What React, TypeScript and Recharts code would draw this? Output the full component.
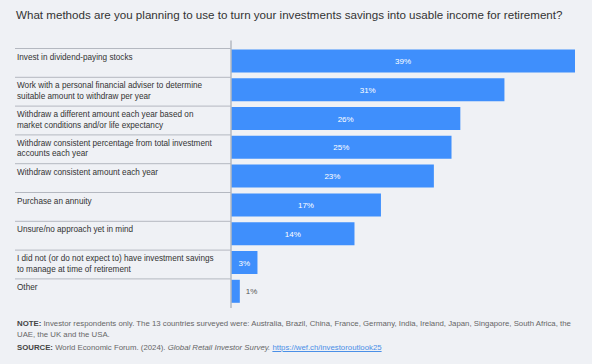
import React from 'react';
import { BarChart, Bar, XAxis, YAxis, LabelList } from 'recharts';

const categories = [
  'Invest in dividend-paying stocks',
  'Work with a personal financial adviser to determine\nsuitable amount to withdraw per year',
  'Withdraw a different amount each year based on\nmarket conditions and/or life expectancy',
  'Withdraw consistent percentage from total investment\naccounts each year',
  'Withdraw consistent amount each year',
  'Purchase an annuity',
  'Unsure/no approach yet in mind',
  'I did not (or do not expect to) have investment savings\nto manage at time of retirement',
  'Other',
];

const shares = [39, 31, 26, 25, 23, 17, 14, 3, 1];

const data = categories.map((name, i) => ({ name, value: shares[i] }));

const FONT = '"Liberation Sans", Arial, Helvetica, sans-serif';
const BAR_COLOR = '#3F8FFC';
const BG = '#EFF1F5';

const CategoryTick = (props: any) => {
  const { y, payload } = props;
  const lines: string[] = String(payload.value).split('\n');
  const top = y - 12.3;
  return (
    <g>
      <line x1={15} x2={231} y1={top} y2={top} stroke="#B4B8C0" strokeWidth={1} />
      <text x={17} y={top + 11} fontSize={8.2} fill="#333" fontFamily={FONT}>
        {lines.map((l, i) => (
          <tspan key={i} x={17} dy={i === 0 ? 0 : 10.5}>
            {l}
          </tspan>
        ))}
      </text>
    </g>
  );
};

const ValueLabel = (props: any) => {
  const { x, y, width, height, value } = props;
  const inside = width > 20;
  return (
    <text
      x={inside ? x + width / 2 : x + width + 6}
      y={y + height / 2}
      dy={3}
      textAnchor={inside ? 'middle' : 'start'}
      fontSize={8}
      fill={inside ? '#FFFFFF' : '#555'}
      fontFamily={FONT}
    >
      {`${value}%`}
    </text>
  );
};

export default function App() {
  return (
    <div
      style={{
        position: 'absolute',
        left: 0,
        top: 0,
        width: 592,
        height: 364,
        background: BG,
        fontFamily: FONT,
        overflow: 'hidden',
      }}
    >
      <div
        style={{
          position: 'absolute',
          left: 16,
          top: 8,
          fontSize: 11.6,
          color: '#333',
          whiteSpace: 'nowrap',
        }}
      >
        What methods are you planning to use to turn your investments savings into usable income for retirement?
      </div>

      <BarChart
        width={592}
        height={364}
        data={data}
        layout="vertical"
        margin={{ top: 40.5, right: 17, bottom: 56, left: 0 }}
        barSize={23}
      >
        <XAxis type="number" domain={[0, 39]} hide />
        <YAxis
          type="category"
          dataKey="name"
          width={231}
          padding={{ top: 5.9, bottom: 2.4 }}
          axisLine={{ stroke: '#B4B8C0', strokeWidth: 1.5 }}
          tickLine={false}
          tick={<CategoryTick />}
          interval={0}
        />
        <Bar dataKey="value" fill={BAR_COLOR} isAnimationActive={false}>
          <LabelList dataKey="value" content={<ValueLabel />} />
        </Bar>
      </BarChart>

      {/* footnote, wrapped as in the source */}
      <div
        style={{
          position: 'absolute',
          left: 17,
          top: 318,
          fontSize: 7.8,
          lineHeight: '11px',
          color: '#666',
          whiteSpace: 'nowrap',
        }}
      >
        <div>
          <b style={{ color: '#444' }}>NOTE:</b> Investor respondents only. The 13 countries surveyed were: Australia,
          Brazil, China, France, Germany, India, Ireland, Japan, Singapore, South Africa, the
        </div>
        <div>UAE, the UK and the USA.</div>
        <div style={{ marginTop: 2 }}>
          <b style={{ color: '#444' }}>SOURCE:</b> World Economic Forum. (2024). <i>Global Retail Investor Survey.</i>{' '}
          <span style={{ color: '#4A8FE7', textDecoration: 'underline' }}>https://wef.ch/investoroutlook25</span>
        </div>
      </div>
    </div>
  );
}
